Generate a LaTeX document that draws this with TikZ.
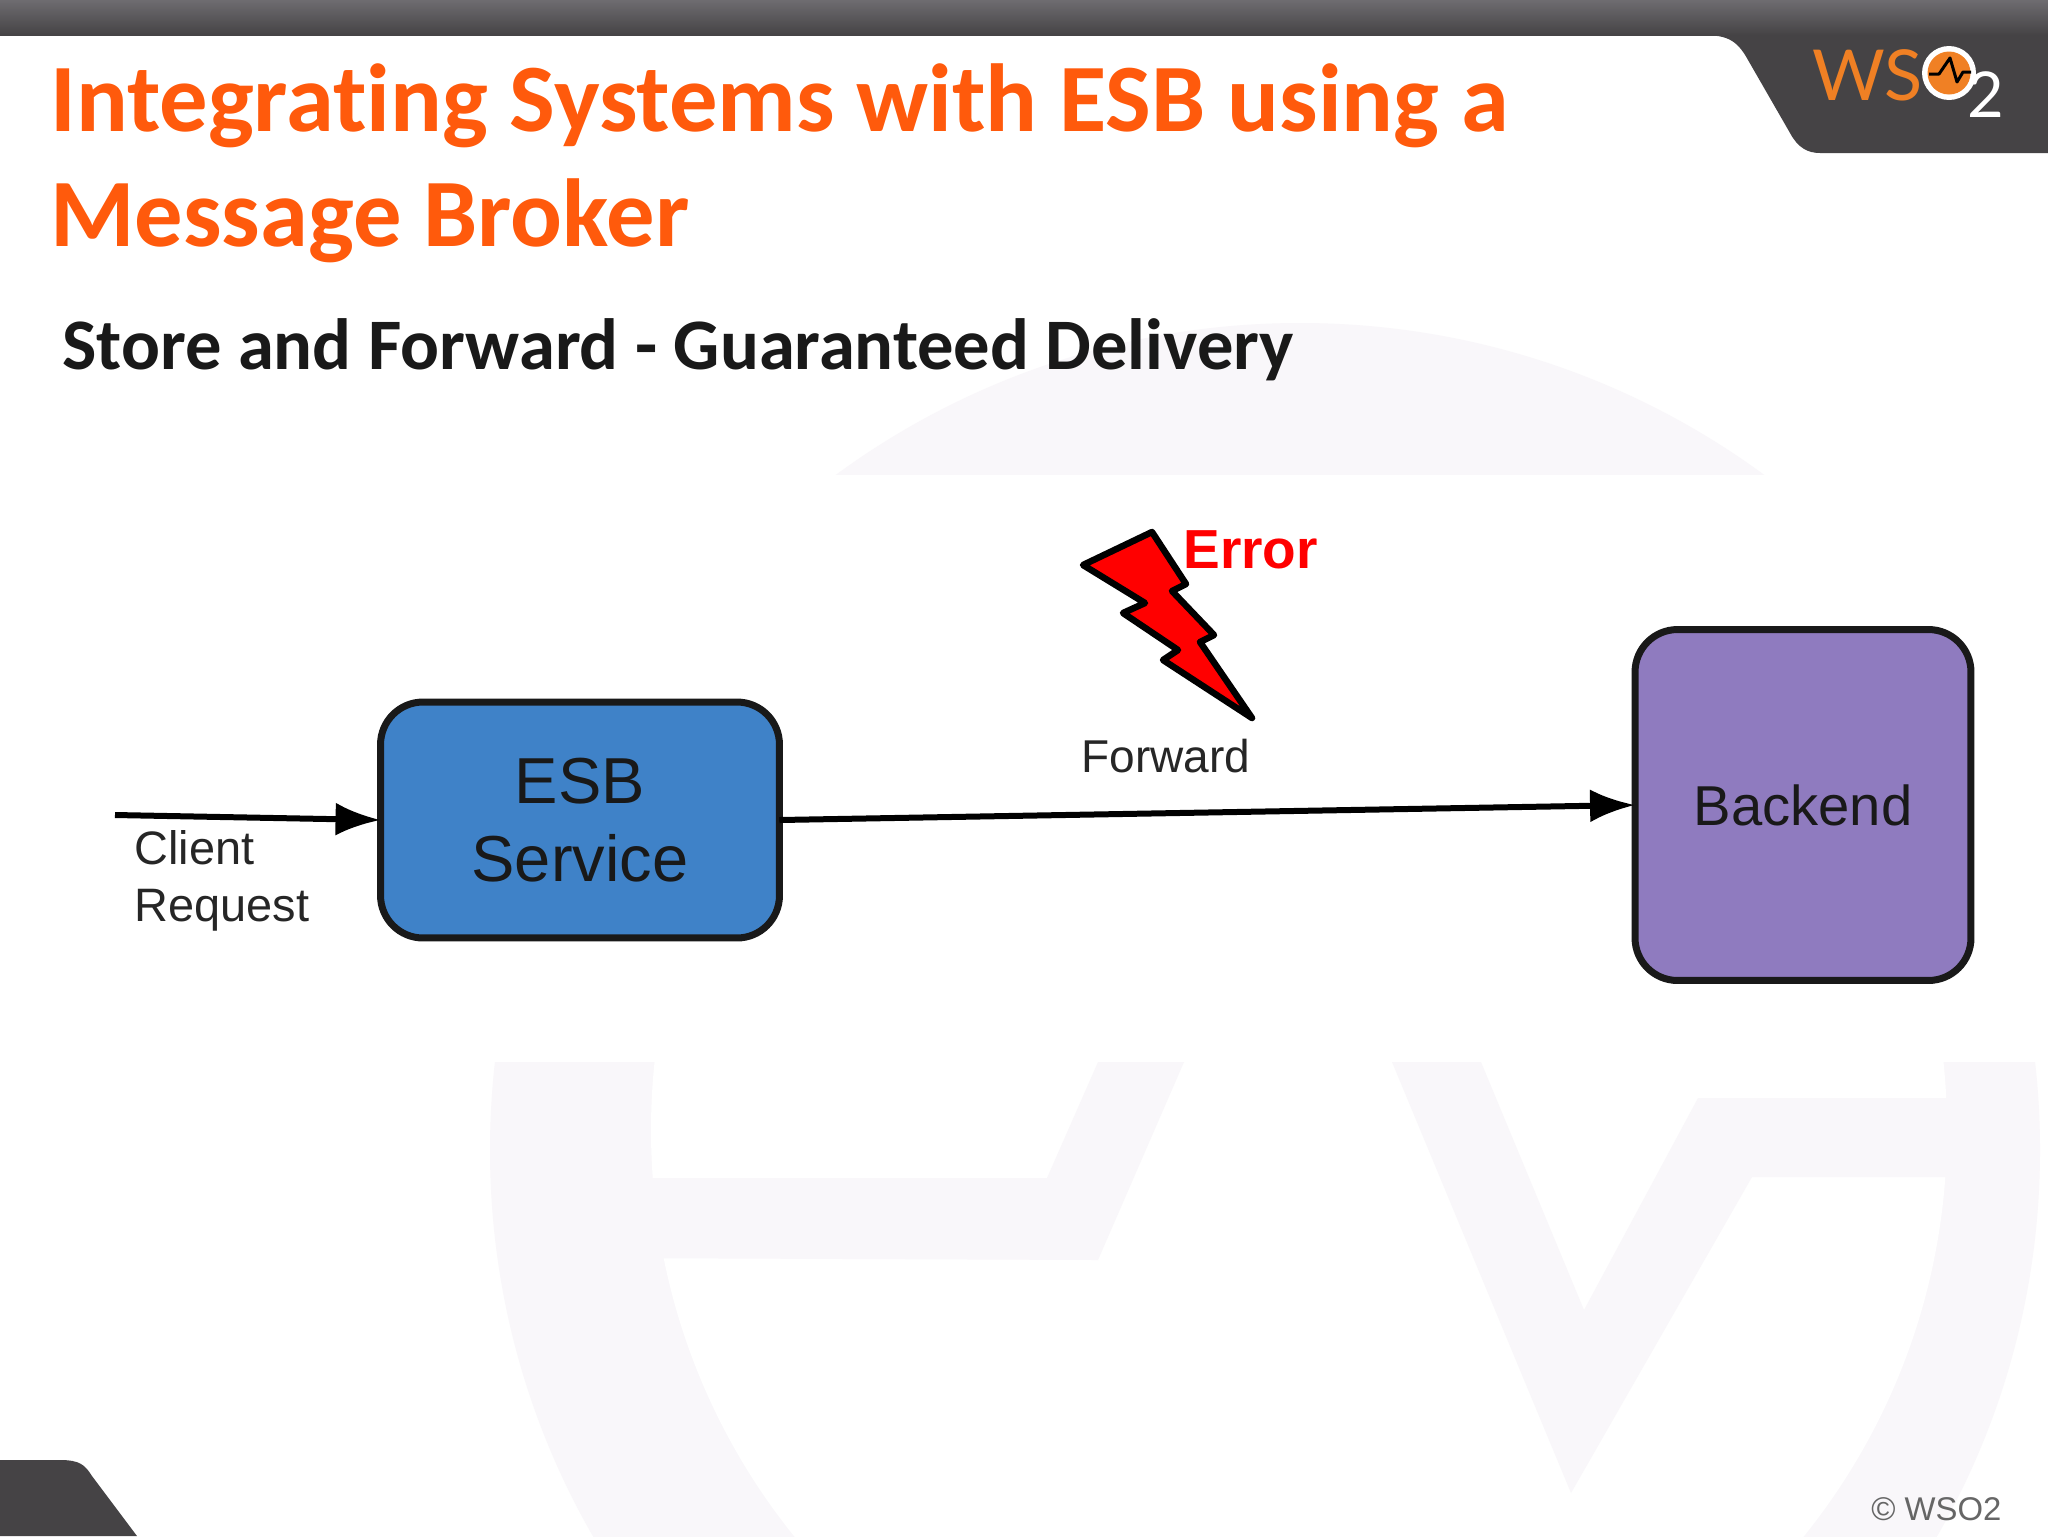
\documentclass[tikz,border=0pt]{standalone}
\usepackage{fontspec}
\setmainfont{Liberation Sans}
\newfontfamily\slidefont[Ligatures=CommonOff]{Carlito}
\newfontfamily\logofont{Lato}
\usetikzlibrary{arrows.meta}
\definecolor{wsoorange}{HTML}{FF5A0C}
\definecolor{wsodark}{HTML}{454345}
\definecolor{wsotop}{HTML}{6E6C70}
\definecolor{wsologo}{HTML}{F08024}
\definecolor{watermark}{HTML}{F9F7FA}
\definecolor{esbblue}{HTML}{3F82C8}
\definecolor{backpurple}{HTML}{8F7BBF}
\begin{document}
\begin{tikzpicture}
	[
	x=0.02cm,
	y=-0.02cm,
	title/.style={anchor=base west, inner sep=0pt, text=wsoorange, font=\slidefont\bfseries\fontsize{55}{60}\selectfont},
	subtitle/.style={anchor=base west, inner sep=0pt, text=black!90, font=\slidefont\bfseries\fontsize{41.3}{44}\selectfont},
	service/.style={rounded corners=0.85cm, draw=black!90, line width=0.14cm, align=center, inner sep=0pt, outer sep=0pt, text=black!90},
	label/.style={anchor=base, inner sep=0pt, text=black!85, align=left},
	flow/.style={-{Latex[length=0.9cm,width=0.66cm]}, draw=black, line width=0.12cm}
	]
		% slide background
		\useasboundingbox (0, 0) rectangle (2048, 1536);
		\fill [white] (0, 0) rectangle (2048, 1536);
		\begin{scope}
			\clip (0, 0) rectangle (2048, 474);
			\fill [watermark] (1300, 1108) circle [radius=785];
		\end{scope}
		\begin{scope}
			\clip (0, 1062) rectangle (2048, 1536);
			\fill [watermark] (1265, 1150) circle [radius=775];
			\fill [white] (1299, 1130) circle [radius=648];
			\fill [watermark] (600, 1178) -- (1047, 1178) -- (1098, 1062) -- (1184, 1062) -- (1098, 1260) -- (600, 1258) -- cycle;
			\fill [watermark] (1392, 1062) -- (1481, 1062) -- (1584, 1310) -- (1698, 1098) -- (1960, 1098) -- (1960, 1177) -- (1752, 1177) -- (1571, 1493) -- cycle;
		\end{scope}

		% header
		\shade [top color=wsotop, bottom color=wsodark] (0, 0) rectangle (2048, 35);
		\fill [wsodark] (1700, 35) .. controls (1725, 35) and (1736, 38) .. (1748, 60) -- (1790, 133) .. controls (1798, 148) and (1808, 153) .. (1820, 153) -- (2048, 153) -- (2048, 35) -- cycle;
		\fill [wsodark] (0, 1460) -- (60, 1460) .. controls (80, 1460) and (85, 1465) .. (92, 1476) -- (137, 1536) -- (0, 1536) -- cycle;

		% logo
		\node (logows) [anchor=base west, inner sep=0pt, text=wsologo, font=\logofont\fontsize{40}{40}\selectfont] at (1812, 100) {WS};
		\node (logoring) [circle, fill=white, inner sep=0pt, minimum size=1.08cm] at (1949, 73) {};
		\node (logodot) [circle, fill=wsologo, inner sep=0pt, minimum size=0.86cm] at (1949, 73) {};
		\draw [black, line width=0.06cm, line join=round] (1929, 74) -- (1939, 74) -- (1950, 58) -- (1957, 82) -- (1963, 72) -- (1971, 72);
		\node (logotwo) [anchor=base west, inner sep=0pt, text=white, font=\logofont\fontsize{36}{36}\selectfont] at (1967, 117) {2};

		% titles
		\node (titlea) [title] at (50, 131) {Integrating Systems with ESB using a};
		\node (titleb) [title] at (50, 246) {Message Broker};
		\node (sub) [subtitle] at (62, 369) {Store and Forward - Guaranteed Delivery};

		% services
		\node (esb) [service, fill=esbblue, minimum width=7.98cm, minimum height=4.72cm, font=\fontsize{37}{44.5}\selectfont] at (580, 820) {ESB\\Service};
		\node (backend) [service, fill=backpurple, minimum width=6.72cm, minimum height=7.02cm, font=\fontsize{32}{38}\selectfont] at (1803, 805) {Backend};
		\coordinate (client) at (115, 815);

		% labels
		\node (request) [label, anchor=north west, font=\fontsize{26.7}{32.5}\selectfont] at (134, 830) {Client\\Request};
		\node (forward) [label, anchor=base west, font=\fontsize{26.2}{30}\selectfont] at (1081, 772) {Forward};
		\node (error) [label, anchor=base west, text=red, font=\bfseries\fontsize{31.3}{36}\selectfont] at (1183, 568) {Error};
		\node (copy) [anchor=base west, inner sep=0pt, text=black!60, font=\fontsize{18.7}{22}\selectfont] at (1871, 1520) {© WSO2};

		% lightning
		\fill [red, draw=black, line width=0.13cm, line join=round] (1083, 565) -- (1152, 532) -- (1186, 584) -- (1172, 591) -- (1214, 635) -- (1200, 642) -- (1252, 718) -- (1163, 660) -- (1178, 650) -- (1123, 613) -- (1145, 603) -- cycle;

		% drawing code
		\foreach \from/\to in {client/esb.west,esb.east/backend.west} \draw [flow] (\from) -- (\to);
\end{tikzpicture}
\end{document}
